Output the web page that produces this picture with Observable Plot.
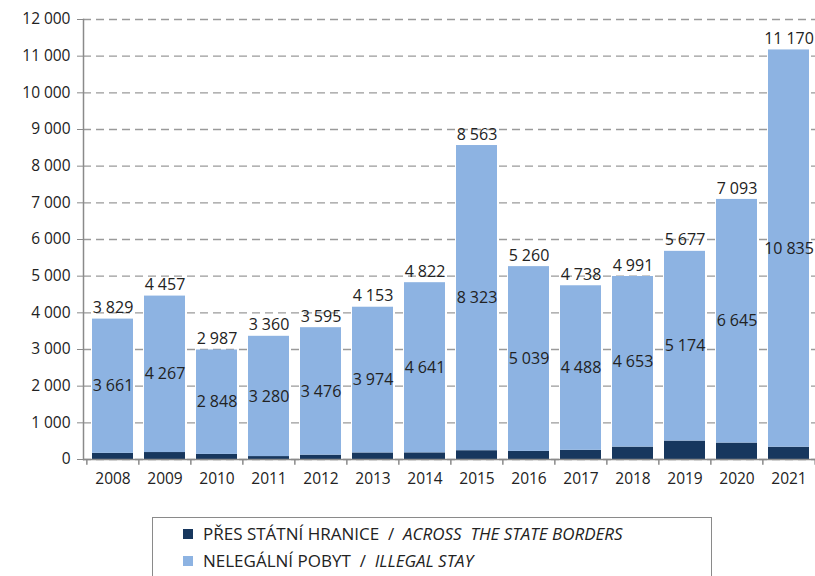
<!DOCTYPE html>
<html>
<head>
<meta charset="utf-8">
<script src="https://cdn.jsdelivr.net/npm/d3@7"></script>
<script src="https://cdn.jsdelivr.net/npm/@observablehq/plot@0.6"></script>
<style>
  body { margin: 0; background: #fff; font-family: "Open Sans", sans-serif; }
  #wrap { position: relative; width: 815px; height: 576px; overflow: hidden; }
  #legend { position: absolute; left: 152px; top: 517px; width: 560px; height: 80px;
    border: 1px solid #8a8a8a; box-sizing: border-box; font-size: 17px; color: #222; }
  .item { position: absolute; left: 30px; display: flex; align-items: center; white-space: pre; }
  .sw { width: 10px; height: 10px; margin-right: 10px; }
</style>
</head>
<body>
<div id="wrap">
  <div id="chart"></div>
  <div id="legend"></div>
</div>
<script>
const years = ["2008","2009","2010","2011","2012","2013","2014","2015","2016","2017","2018","2019","2020","2021"];
const totals = [3829,4457,2987,3360,3595,4153,4822,8563,5260,4738,4991,5677,7093,11170];
const illegalStay = [3661,4267,2848,3280,3476,3974,4641,8323,5039,4488,4653,5174,6645,10835];
const acrossBorders = [168,190,139,80,119,179,181,240,221,250,338,503,448,335];
const seriesNames = ["PŘES STÁTNÍ HRANICE", "NELEGÁLNÍ POBYT"];
const seriesNamesEn = ["ACROSS  THE STATE BORDERS", "ILLEGAL STAY"];
const colors = ["#17375e", "#8db3e2"];
const yTicks = [0,1000,2000,3000,4000,5000,6000,7000,8000,9000,10000,11000,12000];

const fmt = v => d3.format(",")(v).replace(/,/g, "\u2005");

const rows = [];
years.forEach((y, i) => {
  rows.push({year: y, series: seriesNames[0], value: acrossBorders[i]});
  rows.push({year: y, series: seriesNames[1], value: illegalStay[i]});
});
const tot = years.map((y, i) => ({year: y, total: totals[i]}));
const inner = years.map((y, i) => ({year: y, mid: acrossBorders[i] + illegalStay[i] / 2, v: illegalStay[i]}));

const x0 = 83, x1 = 818, pIn = 0.216, pOut = 0.134;
const step = (x1 - x0) / (years.length - pIn + 2 * pOut);

const chart = Plot.plot({
  width: 815,
  height: 500,
  marginLeft: 83,
  marginRight: 0,
  marginTop: 19,
  marginBottom: 41,
  style: {fontFamily: "'Open Sans', sans-serif", fontSize: "16px", color: "#222", overflow: "visible"},
  x: {type: "band", domain: years, range: [x0, x1], paddingInner: pIn, paddingOuter: pOut, axis: null, label: null},
  y: {domain: [0, 12000], axis: null, label: null},
  color: {domain: seriesNames, range: colors},
  marks: [
    Plot.gridY(yTicks, {stroke: "#9a9a9a", strokeOpacity: 1, strokeWidth: 1.4, strokeDasharray: "8,5"}),
    Plot.barY(rows, {x: "year", y: "value", fill: "series", order: seriesNames}),
    Plot.ruleY([0], {stroke: "#8a8a8a", strokeWidth: 1.5}),
    Plot.frame({anchor: "left", stroke: "#8a8a8a", strokeWidth: 1.5}),
    Plot.axisY(yTicks, {tickSize: 6, tickPadding: 7, tickFormat: fmt, stroke: "#8a8a8a", fontSize: 15.5, fill: "#222", label: null}),
    Plot.axisX(years, {tickSize: 0, tickPadding: 13, fontSize: 15.5, fill: "#222", label: null}),
    Plot.ruleX(years, {x: d => d, dx: -step / 2, y1: 0, y2: -160, stroke: "#8a8a8a", strokeWidth: 1.5}),
    Plot.ruleX(years.slice(-1), {x: d => d, dx: step / 2, y1: 0, y2: -160, stroke: "#8a8a8a", strokeWidth: 1.5}),
    Plot.text(tot, {x: "year", y: "total", text: d => fmt(d.total), dy: -11, fontSize: 16, fill: "#222"}),
    Plot.text(inner, {x: "year", y: "mid", text: d => fmt(d.v), fontSize: 16, fill: "#222"})
  ]
});
document.getElementById("chart").appendChild(chart);

const leg = document.getElementById("legend");
seriesNames.forEach((n, i) => {
  const d = document.createElement("div");
  d.className = "item";
  d.style.top = (i === 0 ? 4 : 31) + "px";
  d.innerHTML = `<span class="sw" style="background:${colors[i]}"></span><span>${n}  /  <i>${seriesNamesEn[i]}</i></span>`;
  leg.appendChild(d);
});
</script>
</body>
</html>
